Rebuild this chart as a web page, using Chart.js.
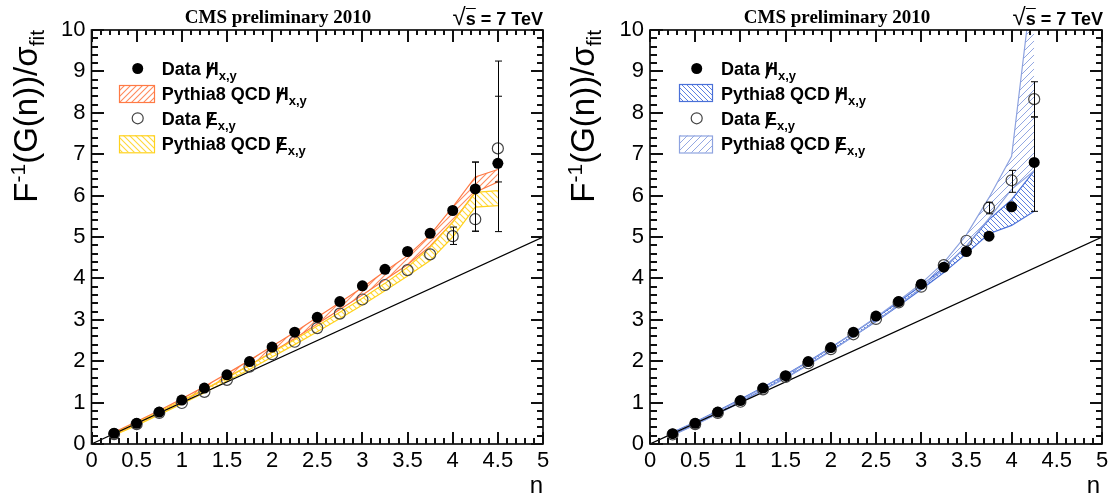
<!DOCTYPE html>
<html>
<head>
<meta charset="utf-8">
<script src="https://cdn.jsdelivr.net/npm/chart.js@4.4.1/dist/chart.umd.min.js"></script>
<style>
body{margin:0;background:#fff;width:1114px;height:500px;position:relative;overflow:hidden;font-family:"Liberation Sans",Arial,sans-serif;color:#000}
canvas{position:absolute;top:0}
.t{position:absolute;white-space:nowrap}
.tk{position:absolute;background:#111}
.hdr{font:bold 19px/19px "Liberation Serif","Times New Roman",serif;text-align:center;width:240px}
.rs{font:bold 18px/18px "Liberation Sans",Arial,sans-serif;text-align:right;width:200px}
.rs .ov{text-decoration:overline}
.rs .rt{font-weight:normal;font-size:24px}
.leg{font:bold 18px/18px "Liberation Sans",Arial,sans-serif}
.leg sub{font-size:13px;vertical-align:-5px;line-height:0}
.sl{position:relative;display:inline-block}
.sl::after{content:"";position:absolute;left:3px;top:2px;width:1.6px;height:17px;background:#000;transform:rotate(22deg)}
.xt{font:24px/24px "Liberation Sans",Arial,sans-serif;text-align:right;width:60px}
.yt{font:33px/32px "Liberation Sans",Arial,sans-serif;text-align:right;width:320px;transform-origin:100% 0;transform:rotate(-90deg)}
.yt sup{font-size:21px;vertical-align:12px;line-height:0}
.yt sub{font-size:21px;vertical-align:-7px;line-height:0}
</style>
</head>
<body>
<canvas id="left" width="557" height="500" style="left:0"></canvas>
<canvas id="right" width="557" height="500" style="left:557px"></canvas>
<canvas id="leftAxes" width="557" height="500" style="left:0"></canvas>
<canvas id="rightAxes" width="557" height="500" style="left:557px"></canvas>
<script>
// n values (x)
const nLeft = [0.25,0.5,0.75,1,1.25,1.5,1.75,2,2.25,2.5,2.75,3,3.25,3.5,3.75,4,4.25,4.5];
const nRight = [0.25,0.5,0.75,1,1.25,1.5,1.75,2,2.25,2.5,2.75,3,3.25,3.5,3.75,4,4.25];

// left panel: data points
const leftDataH = [0.26,0.5,0.77,1.06,1.35,1.67,1.99,2.34,2.7,3.06,3.44,3.82,4.22,4.65,5.09,5.64,6.16,6.78];
const leftDataE = [0.24,0.48,0.75,0.99,1.26,1.55,1.87,2.17,2.47,2.8,3.15,3.49,3.84,4.2,4.58,5.02,5.43,7.14];
// left panel: Pythia8 bands
const leftMcHLo = [0.23,0.48,0.75,1.02,1.31,1.6,1.9,2.22,2.55,2.9,3.25,3.6,3.97,4.33,4.78,5.36,6.08,6.33];
const leftMcHHi = [0.28,0.54,0.81,1.09,1.39,1.7,2.02,2.36,2.7,3.06,3.42,3.78,4.17,4.55,5.05,5.72,6.45,6.63];
const leftMcELo = [0.21,0.45,0.71,0.97,1.24,1.52,1.8,2.1,2.4,2.71,3.03,3.36,3.7,4.06,4.43,5.0,5.72,5.76];
const leftMcEHi = [0.26,0.51,0.78,1.05,1.32,1.61,1.9,2.21,2.52,2.85,3.18,3.52,3.88,4.27,4.75,5.36,6.08,6.12];
// left panel: error bars
const leftErrX  = [4.0,4.25,4.25,4.5,4.5];
const leftErrLo = [4.82,5.14,5.14,5.13,6.33];
const leftErrHi = [5.24,6.81,6.81,8.4,9.25];

// right panel: data points
const rightDataH = [0.25,0.5,0.77,1.05,1.35,1.65,1.99,2.33,2.7,3.09,3.44,3.86,4.27,4.65,5.02,5.73,6.8];
const rightDataE = [0.23,0.48,0.75,1.02,1.32,1.62,1.95,2.29,2.65,3.02,3.42,3.8,4.32,4.91,5.71,6.37,8.33];
// right panel: Pythia8 bands
const rightMcHLo = [0.22,0.47,0.74,1.02,1.31,1.6,1.92,2.25,2.6,2.96,3.34,3.73,4.14,4.6,5.08,5.28,5.62];
const rightMcHHi = [0.28,0.53,0.8,1.08,1.37,1.67,1.99,2.33,2.68,3.05,3.43,3.83,4.26,4.78,5.42,5.9,6.6];
const rightMcELo = [0.21,0.46,0.73,1.0,1.3,1.59,1.91,2.24,2.6,2.97,3.36,3.77,4.22,4.78,5.45,6.15,6.6];
const rightMcEHi = [0.27,0.52,0.79,1.06,1.36,1.66,1.98,2.32,2.68,3.06,3.46,3.88,4.38,5.05,5.95,6.95,11.5];
// right panel: error bars
const rightErrX  = [3.75,4.0,4.25,4.25];
const rightErrLo = [5.56,6.08,5.62,7.9];
const rightErrHi = [5.84,6.61,7.9,8.75];

// axes
const xMin = 0, xMax = 5, xMajor = 0.5, xMinor = 0.1;
const yMin = 0, yMax = 10, yMajor = 1, yMinor = 0.2;
const diagonal = [0,5];

function hatch(color, s, dir, lw){
  const c = document.createElement('canvas'); c.width = c.height = s;
  const g = c.getContext('2d'); g.strokeStyle = color; g.lineWidth = lw;
  g.beginPath();
  if(dir > 0){
    g.moveTo(0,s); g.lineTo(s,0);
    g.moveTo(-1,1); g.lineTo(1,-1);
    g.moveTo(s-1,s+1); g.lineTo(s+1,s-1);
  } else {
    g.moveTo(0,0); g.lineTo(s,s);
    g.moveTo(s-1,-1); g.lineTo(s+1,1);
    g.moveTo(-1,s-1); g.lineTo(1,s+1);
  }
  g.stroke();
  return g.createPattern(c,'repeat');
}

const pts = (xs,ys) => xs.map((x,i)=>({x, y:ys[i]}));

const errorBars = {
  id:'errorBars',
  afterDatasetsDraw(chart, args, o){
    const ctx = chart.ctx, a = chart.chartArea, sx = chart.scales.x, sy = chart.scales.y;
    ctx.save();
    ctx.strokeStyle = '#000'; ctx.lineWidth = 1;
    ctx.beginPath();
    o.errX.forEach((v,i)=>{
      const px = Math.round(sx.getPixelForValue(v))+0.5;
      const lo = sy.getPixelForValue(o.errLo[i]), hi = Math.max(a.top, sy.getPixelForValue(o.errHi[i]));
      ctx.moveTo(px,lo); ctx.lineTo(px,hi);
      ctx.moveTo(px-3.5,lo); ctx.lineTo(px+3.5,lo);
      if(hi > a.top){ ctx.moveTo(px-3.5,hi); ctx.lineTo(px+3.5,hi); }
    });
    ctx.stroke();
    // legend symbols
    const L = o.legend;
    ctx.fillStyle = '#000';
    ctx.beginPath(); ctx.arc(L.mx, L.rows[0], 5.5, 0, Math.PI*2); ctx.fill();
    ctx.lineWidth = 1.2; ctx.strokeStyle = '#444';
    ctx.beginPath(); ctx.arc(L.mx, L.rows[2], 5.5, 0, Math.PI*2); ctx.stroke();
    [[1,o.hPat,o.hCol],[3,o.ePat,o.eCol]].forEach(([r,pat,col])=>{
      const top = L.rows[r]-8.5;
      ctx.fillStyle = pat; ctx.fillRect(L.bx, top, L.bw, 17);
      ctx.strokeStyle = col; ctx.lineWidth = 1.2; ctx.strokeRect(L.bx+0.5, top+0.5, L.bw, 17);
    });
    ctx.restore();
  }
};

// ROOT-style frame with inward ticks on all four sides
function tick(left, top, w, h){
  const d = document.createElement('div');
  d.className = 'tk';
  d.style.cssText = `left:${left}px;top:${top}px;width:${w}px;height:${h}px`;
  document.body.appendChild(d);
}
function drawAxes(chart, id, off){
  const ctx = document.getElementById(id).getContext('2d');
  const a = chart.chartArea, sx = chart.scales.x, sy = chart.scales.y;
  const nx = Math.round((xMax-xMin)/xMinor), ny = Math.round((yMax-yMin)/yMinor);
  const kx = Math.round(xMajor/xMinor), ky = Math.round(yMajor/yMinor);
  for(let i=0;i<=nx;i++){
    const px = Math.round(sx.getPixelForValue(xMin+i*xMinor));
    const lenB = i%kx===0 ? 12 : 6.5, lenT = i%kx===0 ? 12 : 5;
    tick(off+px-0.75, a.bottom-lenB, 1.5, lenB);
    tick(off+px-0.75, a.top, 1.5, lenT);
  }
  for(let i=0;i<=ny;i++){
    const py = Math.round(sy.getPixelForValue(yMin+i*yMinor));
    const len = i%ky===0 ? 12.5 : 6.5;
    tick(off+a.left, py-0.75, len, 1.5);
    tick(off+a.right-len, py-0.75, len, 1.5);
  }
  ctx.strokeStyle = '#000';
  ctx.lineWidth = 1.6;
  ctx.strokeRect(a.left, a.top, a.width, a.height);
}

function makeChart(id, off, n, dH, dE, hLo, hHi, eLo, eHi, errX, errLo, errHi, st){
  const ctx = document.getElementById(id).getContext('2d');
  const band = (data, col, fill, pat, order) => ({
    type:'line', data:pts(n,data), borderColor:col, borderWidth:1.2, pointRadius:0,
    fill, backgroundColor:pat, order, tension:0
  });
  const tickFont = {family:'Liberation Sans', size:22};
  const chart = new Chart(ctx, {
    type:'scatter',
    data:{datasets:[
      band(hLo, st.hCol, false, st.hPat, 5),
      band(hHi, st.hCol, '-1', st.hPat, 5),
      band(eLo, st.eCol, false, st.ePat, 4),
      band(eHi, st.eCol, '-1', st.ePat, 4),
      {type:'line', data:pts(diagonal,diagonal), borderColor:'#000', borderWidth:1.2, pointRadius:0, fill:false, order:3},
      {data:pts(n,dE), pointRadius:5.5, pointBackgroundColor:'rgba(0,0,0,0)', pointBorderColor:'#444', pointBorderWidth:1.2, order:2},
      {data:pts(n,dH), pointRadius:5.5, pointBackgroundColor:'#000', pointBorderColor:'#000', pointBorderWidth:0, order:1}
    ]},
    options:{
      responsive:false, animation:false, devicePixelRatio:1,
      layout:{padding:{top:30, right:st.rightPad, left:0, bottom:0}},
      plugins:{legend:{display:false}, tooltip:{enabled:false},
        errorBars:{errX, errLo, errHi, legend:st.legend, hPat:st.hPat, ePat:st.ePat, hCol:st.hCol, eCol:st.eCol}},
      scales:{
        x:{type:'linear', min:xMin, max:xMax,
          ticks:{stepSize:xMajor, color:'#000', font:tickFont, padding:4, maxRotation:0, autoSkip:false,
                 callback:v=>String(Math.round(v*10)/10)},
          grid:{display:false, drawTicks:false}, border:{display:false},
          afterFit:s=>{ s.height = 56; }},
        y:{type:'linear', min:yMin, max:yMax,
          ticks:{stepSize:yMajor, color:'#000', font:tickFont, padding:6, autoSkip:false,
                 callback:v=>String(Math.round(v))},
          grid:{display:false, drawTicks:false}, border:{display:false},
          afterFit:s=>{ s.width = st.yWidth; }}
      }
    },
    plugins:[errorBars]
  });
  drawAxes(chart, id + 'Axes', off);
  return chart;
}

makeChart('left', 0, nLeft, leftDataH, leftDataE, leftMcHLo, leftMcHHi, leftMcELo, leftMcEHi,
  leftErrX, leftErrLo, leftErrHi, {
    hCol:'#ff7a45', eCol:'#ffd21e',
    hPat:hatch('#ff8a5c', 6, 1, 1.1), ePat:hatch('#ffd83a', 6, -1, 1.1),
    yWidth:91.5, rightPad:14,
    legend:{mx:137.7, bx:119, bw:35, rows:[68.5,93.5,118.3,143.8]}
  });

makeChart('right', 557, nRight, rightDataH, rightDataE, rightMcHLo, rightMcHHi, rightMcELo, rightMcEHi,
  rightErrX, rightErrLo, rightErrHi, {
    hCol:'#4a70d8', eCol:'#8ea3e0',
    hPat:hatch('#5b80e2', 5, -1, 1), ePat:hatch('#94a8e2', 7, 1, 1),
    yWidth:93, rightPad:12,
    legend:{mx:139.7, bx:122, bw:33, rows:[68.5,92.5,118.3,144]}
  });

// text overlays
function txt(cls, left, top, html){
  const d = document.createElement('div');
  d.className = 't ' + cls;
  d.style.left = left + 'px'; d.style.top = top + 'px';
  d.innerHTML = html;
  document.body.appendChild(d);
}
const slH = '<span class="sl">H</span><sub>x,y</sub>';
const slE = '<span class="sl">E</span><sub>x,y</sub>';
const legendLabels = ['Data ' + slH, 'Pythia8 QCD ' + slH, 'Data ' + slE, 'Pythia8 QCD ' + slE];
const yTitle = 'F<sup>-1</sup>(G(n))/σ<sub>fit</sub>';
[[0,161.7,158,343],[557,164,717,903]].forEach(([off,lx,hx,rx],p)=>{
  txt('hdr', hx, 6.5, 'CMS preliminary 2010');
  txt('rs', rx, 7.5, '<span class="rt">√</span><span class="ov">s</span> = 7 TeV');
  const rows = p===0 ? [60,85,109.5,134.5] : [60,84.5,109.5,135];
  legendLabels.forEach((l,i)=>txt('leg', off+lx, rows[i], l));
  txt('xt', off+483, 473, 'n');
  txt('yt', off+10-320, 30, yTitle);
});
</script>
</body>
</html>
